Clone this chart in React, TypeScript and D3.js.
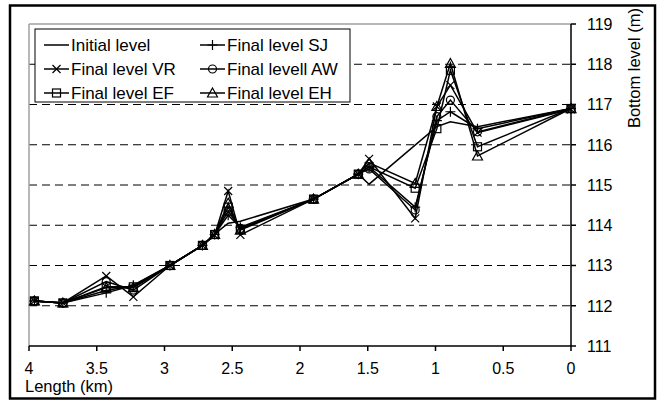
import React from 'react';
import * as d3 from 'd3';

const xTickValues = [4, 3.5, 3, 2.5, 2, 1.5, 1, 0.5, 0];
const xTickLabels = ['4', '3.5', '3', '2.5', '2', '1.5', '1', '0.5', '0'];
const yTickValues = [111, 112, 113, 114, 115, 116, 117, 118, 119];

// stations (km) for the final-level series
const stations = [3.96, 3.75, 3.43, 3.23, 2.96, 2.72, 2.63, 2.53, 2.44, 1.9, 1.57, 1.49, 1.15, 0.99, 0.89, 0.69, 0];
// stations (km) for the initial level
const initialStations = [3.96, 3.75, 3.43, 3.23, 2.96, 2.72, 2.63, 2.53, 2.44, 1.9, 1.57, 1.49, 0.99, 0.89, 0.69, 0];

const initialLevel = [112.12, 112.07, 112.38, 112.5, 113.0, 113.5, 113.78, 114.05, 114.1, 114.65, 115.27, 115.02, 116.45, 116.57, 116.45, 116.9];
const levelSJ = [112.12, 112.07, 112.32, 112.51, 113.0, 113.5, 113.77, 114.25, 113.95, 114.65, 115.27, 115.45, 114.45, 116.6, 116.82, 116.4, 116.9];
const levelVR = [112.12, 112.07, 112.74, 112.22, 113.0, 113.5, 113.75, 114.85, 113.76, 114.65, 115.27, 115.65, 114.17, 116.95, 117.48, 116.3, 116.88];
const levelAW = [112.12, 112.07, 112.6, 112.39, 113.0, 113.5, 113.77, 114.35, 113.92, 114.65, 115.27, 115.4, 114.38, 116.7, 117.11, 116.32, 116.9];
const levelEF = [112.12, 112.07, 112.47, 112.47, 113.0, 113.5, 113.77, 114.45, 113.9, 114.65, 115.27, 115.45, 114.92, 116.4, 117.85, 115.95, 116.9];
const levelEH = [112.12, 112.07, 112.45, 112.45, 113.0, 113.5, 113.77, 114.55, 113.88, 114.65, 115.27, 115.55, 115.04, 116.95, 118.02, 115.72, 116.9];

type MarkerKind = 'none' | 'plus' | 'x' | 'circle' | 'square' | 'triangle';

const series: { name: string; xs: number[]; ys: number[]; marker: MarkerKind }[] = [
  { name: 'Initial level', xs: initialStations, ys: initialLevel, marker: 'none' },
  { name: 'Final level SJ', xs: stations, ys: levelSJ, marker: 'plus' },
  { name: 'Final level VR', xs: stations, ys: levelVR, marker: 'x' },
  { name: 'Final levell AW', xs: stations, ys: levelAW, marker: 'circle' },
  { name: 'Final level EF', xs: stations, ys: levelEF, marker: 'square' },
  { name: 'Final level EH', xs: stations, ys: levelEH, marker: 'triangle' },
];

const FONT = "Arial, 'Liberation Sans', sans-serif";

function Marker({ kind, cx, cy }: { kind: MarkerKind; cx: number; cy: number }) {
  const s = 4;
  const common = { fill: 'none', stroke: '#000', strokeWidth: 1.2 };
  switch (kind) {
    case 'plus':
      return <path d={`M${cx - s - 1},${cy}H${cx + s + 1}M${cx},${cy - s - 1}V${cy + s + 1}`} {...common} />;
    case 'x':
      return <path d={`M${cx - s},${cy - s}L${cx + s},${cy + s}M${cx - s},${cy + s}L${cx + s},${cy - s}`} {...common} />;
    case 'circle':
      return <circle cx={cx} cy={cy} r={s} {...common} />;
    case 'square':
      return <rect x={cx - s} y={cy - s} width={2 * s} height={2 * s} {...common} />;
    case 'triangle':
      return <path d={`M${cx},${cy - s - 1}L${cx + s + 1},${cy + s}L${cx - s - 1},${cy + s}Z`} {...common} />;
    default:
      return null;
  }
}

export default function App() {
  const W = 660;
  const H = 405;
  const left = 29;
  const right = 571;
  const top = 24;
  const bottom = 346;

  const x = d3.scaleLinear().domain([4, 0]).range([left, right]);
  const y = d3.scaleLinear().domain([111, 119]).range([bottom, top]);

  const lineGen = d3
    .line<[number, number]>()
    .x((d) => x(d[0]))
    .y((d) => y(d[1]));

  const legendRows = [
    [series[0], series[1]],
    [series[2], series[3]],
    [series[4], series[5]],
  ];

  return (
    <svg
      width={W}
      height={H}
      style={{ position: 'absolute', left: 0, top: 0, background: '#fff' }}
      fontFamily={FONT}
    >
      <rect x={0} y={0} width={W} height={H} fill="#fff" />
      {/* outer chart border */}
      <rect x={10} y={5.5} width={645} height={393} fill="none" stroke="#000" strokeWidth={2.5} />

      {/* gridlines */}
      {yTickValues
        .filter((v) => v > 111 && v < 119)
        .map((v) => (
          <line key={v} x1={left} x2={right} y1={y(v)} y2={y(v)} stroke="#000" strokeWidth={1} strokeDasharray="8,5" />
        ))}

      {/* plot area frame (grey) */}
      <line x1={left} x2={right} y1={top} y2={top} stroke="#a0a0a0" strokeWidth={1.5} />
      <line x1={left} x2={left} y1={top} y2={bottom} stroke="#a0a0a0" strokeWidth={1.5} />

      {/* x axis */}
      <line x1={left} x2={right} y1={bottom} y2={bottom} stroke="#000" strokeWidth={1.5} />
      {xTickValues.map((v, i) => (
        <g key={v}>
          <line x1={x(v)} x2={x(v)} y1={bottom} y2={bottom + 5} stroke="#000" strokeWidth={1.5} />
          <text x={x(v)} y={374} textAnchor="middle" fontSize={16} fill="#000">
            {xTickLabels[i]}
          </text>
        </g>
      ))}
      <text x={25} y={392} fontSize={16.5} fill="#000">
        Length (km)
      </text>

      {/* right y axis */}
      <line x1={right} x2={right} y1={top} y2={bottom} stroke="#000" strokeWidth={1.5} />
      {yTickValues.map((v) => (
        <g key={v}>
          <line x1={right} x2={right + 5} y1={y(v)} y2={y(v)} stroke="#000" strokeWidth={1.5} />
          <text x={587} y={y(v)} dy="0.36em" fontSize={16} fill="#000">
            {v}
          </text>
        </g>
      ))}
      <text
        transform={`translate(640, 8) rotate(-90)`}
        textAnchor="end"
        fontSize={16.5}
        fill="#000"
      >
        Bottom level (m)
      </text>

      {/* series lines */}
      {series.map((s) => (
        <path
          key={s.name}
          d={lineGen(s.xs.map((xv, i) => [xv, s.ys[i]] as [number, number])) || ''}
          fill="none"
          stroke="#000"
          strokeWidth={1.5}
          strokeLinejoin="miter"
        />
      ))}
      {/* markers */}
      {series.map((s) =>
        s.marker === 'none'
          ? null
          : s.xs.map((xv, i) => <Marker key={s.name + i} kind={s.marker} cx={x(xv)} cy={y(s.ys[i])} />)
      )}

      {/* legend */}
      <rect x={35} y={29} width={315} height={73} fill="#fff" stroke="#000" strokeWidth={1} />
      {legendRows.map((row, r) =>
        row.map((s, c) => {
          const lx = c === 0 ? 44 : 200;
          const ly = 45 + r * 24;
          return (
            <g key={s.name}>
              <line x1={lx} x2={lx + 25} y1={ly} y2={ly} stroke="#000" strokeWidth={1.5} />
              <Marker kind={s.marker} cx={lx + 12.5} cy={ly} />
              <text x={lx + 27} y={ly} dy="0.36em" fontSize={17} fill="#000">
                {s.name}
              </text>
            </g>
          );
        })
      )}
    </svg>
  );
}
